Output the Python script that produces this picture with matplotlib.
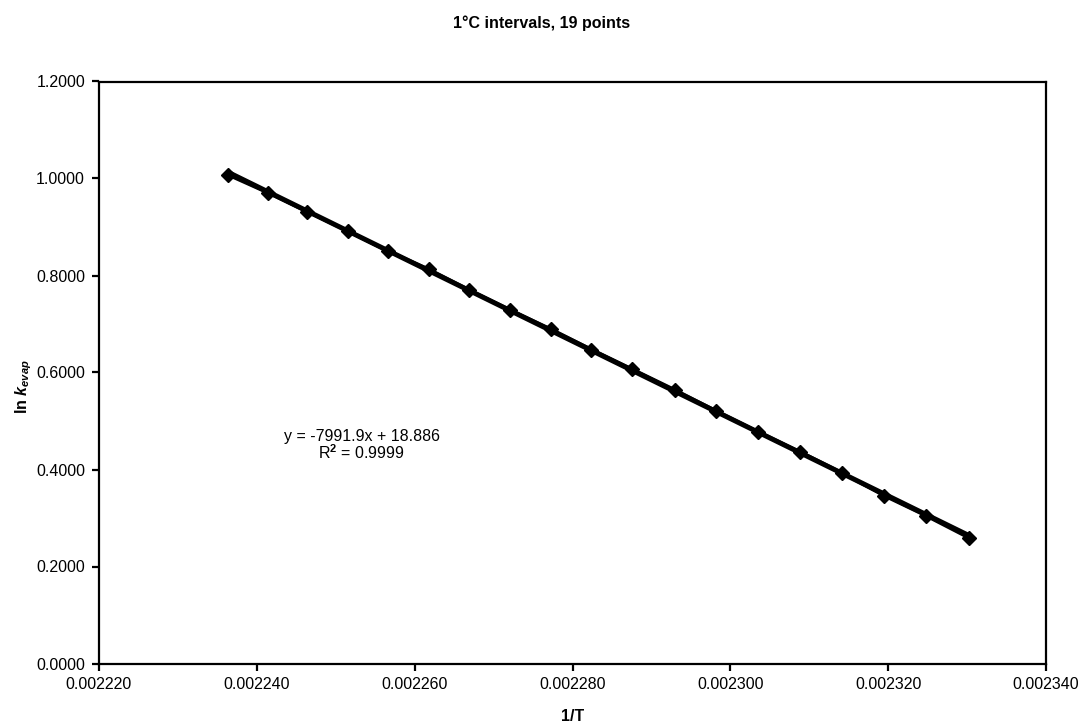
import numpy as np
import matplotlib
matplotlib.use("Agg")
import matplotlib.pyplot as plt
from matplotlib.ticker import FormatStrFormatter, MultipleLocator

plt.rcParams['font.family'] = ['Liberation Sans', 'DejaVu Sans']
plt.rcParams['mathtext.fontset'] = 'custom'
plt.rcParams['mathtext.rm'] = 'Liberation Sans:bold'
plt.rcParams['mathtext.it'] = 'Liberation Sans:italic:bold'
plt.rcParams['mathtext.bf'] = 'Liberation Sans:bold'

# Data: 1/T vs ln k_evap (1 degC intervals, 19 points)
inv_T = [0.0022364, 0.0022414, 0.0022464, 0.0022515, 0.0022566, 0.0022618,
         0.0022669, 0.0022721, 0.0022773, 0.0022824, 0.0022876, 0.0022930,
         0.0022982, 0.0023035, 0.0023088, 0.0023141, 0.0023195, 0.0023248,
         0.0023302]
ln_k = [1.0072, 0.9707, 0.9315, 0.8918, 0.8505, 0.8128, 0.7701, 0.7289,
        0.6891, 0.6474, 0.6066, 0.5639, 0.5206, 0.4779, 0.4367, 0.3934,
        0.3460, 0.3047, 0.2594]

title = "1\u00b0C intervals, 19 points"
x_label = "1/T"
y_label = r"ln $k_{evap}$"
eq_text = "y = -7991.9x + 18.886"
r2_text = r"R$^{2}$ = 0.9999"

W, H = 1083, 725
fig = plt.figure(figsize=(W / 100, H / 100), dpi=100)
ax = fig.add_axes([99 / W, 1 - 663.5 / H, (1046 - 99) / W, (663.5 - 81.5) / H])

x = np.array(inv_T)
y = np.array(ln_k)

# trendline
coef = np.polyfit(x, y, 1)
ax.plot(x, np.polyval(coef, x), color='black', lw=3.6, zorder=2)
ax.plot(x, y, color='black', lw=2.5, marker='D', markersize=7,
        markerfacecolor='black', markeredgecolor='black', zorder=3)

ax.set_xlim(0.00222, 0.00234)
ax.set_ylim(0.0, 1.2)
ax.xaxis.set_major_locator(MultipleLocator(0.00002))
ax.yaxis.set_major_locator(MultipleLocator(0.2))
ax.xaxis.set_major_formatter(FormatStrFormatter('%.6f'))
ax.yaxis.set_major_formatter(FormatStrFormatter('%.4f'))

for s in ax.spines.values():
    s.set_linewidth(1.6)
    s.set_color('black')

ax.tick_params(axis='both', direction='out', length=5, width=1.6,
               labelsize=11.5, colors='black')
ax.tick_params(axis='x', pad=5)
ax.tick_params(axis='y', pad=5)

ax.set_xlabel(x_label, fontsize=11.5, fontweight='bold')
ax.xaxis.set_label_coords(0.5, -0.0914)
ax.xaxis.label.set_va('center')
ax.set_ylabel(y_label, fontsize=11.5, fontweight='bold')
ax.yaxis.set_label_coords(-0.08, 0.475)
ax.yaxis.label.set_va('center')

fig.text(542 / W, 1 - 23 / H, title, ha='center', va='center',
         fontsize=11.5, fontweight='bold')

fig.text(361.7 / W, 1 - 436.5 / H, eq_text, ha='center', va='center', fontsize=11.5)
fig.text(361.7 / W, 1 - 453 / H, r2_text, ha='center', va='center', fontsize=11.5)

fig.savefig('out.png', dpi=100)
